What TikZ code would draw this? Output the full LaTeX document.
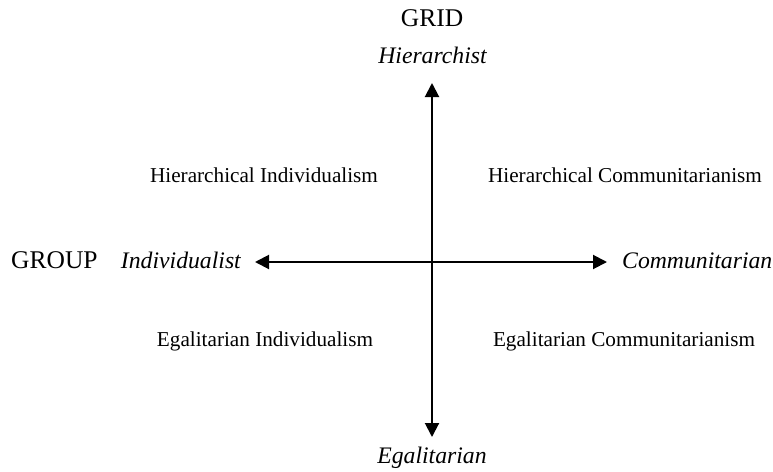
\documentclass[tikz,border=0pt]{standalone}
\usepackage{fontspec}
\setmainfont{Liberation Serif}
\usetikzlibrary{arrows.meta}
\begin{document}
\begin{tikzpicture}[x=1pt,y=-1pt,
  axis/.style={line width=2pt,{Triangle[length=14pt,width=14pt]}-{Triangle[length=14pt,width=14pt]}},
  quad/.style={inner sep=0pt,anchor=base,font=\fontsize{21.2}{25}\selectfont},
  pole/.style={inner sep=0pt,font=\fontsize{23.7}{28}\selectfont\itshape},
  dim/.style={inner sep=0pt,font=\fontsize{25.5}{30}\selectfont}]
\useasboundingbox (0,0) rectangle (773,471);
\coordinate (top) at (432,83);
\coordinate (bot) at (432,437);
\coordinate (lft) at (255,262);
\coordinate (rgt) at (607,262);
\draw[axis] (bot) -- (top);
\draw[axis] (lft) -- (rgt);
\node[dim,anchor=base] (grid) at (432,27) {GRID};
\node[pole,anchor=base] (hier) at (432.5,63) {Hierarchist};
\node[dim,anchor=base west] (group) at (11,268) {GROUP};
\node[pole,anchor=base east] (indiv) at (241,268) {Individualist};
\node[pole,anchor=base west] (comm) at (622,268) {Communitarian};
\node[pole,anchor=base] (egal) at (432,463) {Egalitarian};
\node[quad] (hi) at (264,182) {Hierarchical Individualism};
\node[quad] (hc) at (625,182) {Hierarchical Communitarianism};
\node[quad] (ei) at (265,346) {Egalitarian Individualism};
\node[quad] (ec) at (624,346) {Egalitarian Communitarianism};
\end{tikzpicture}
\end{document}
